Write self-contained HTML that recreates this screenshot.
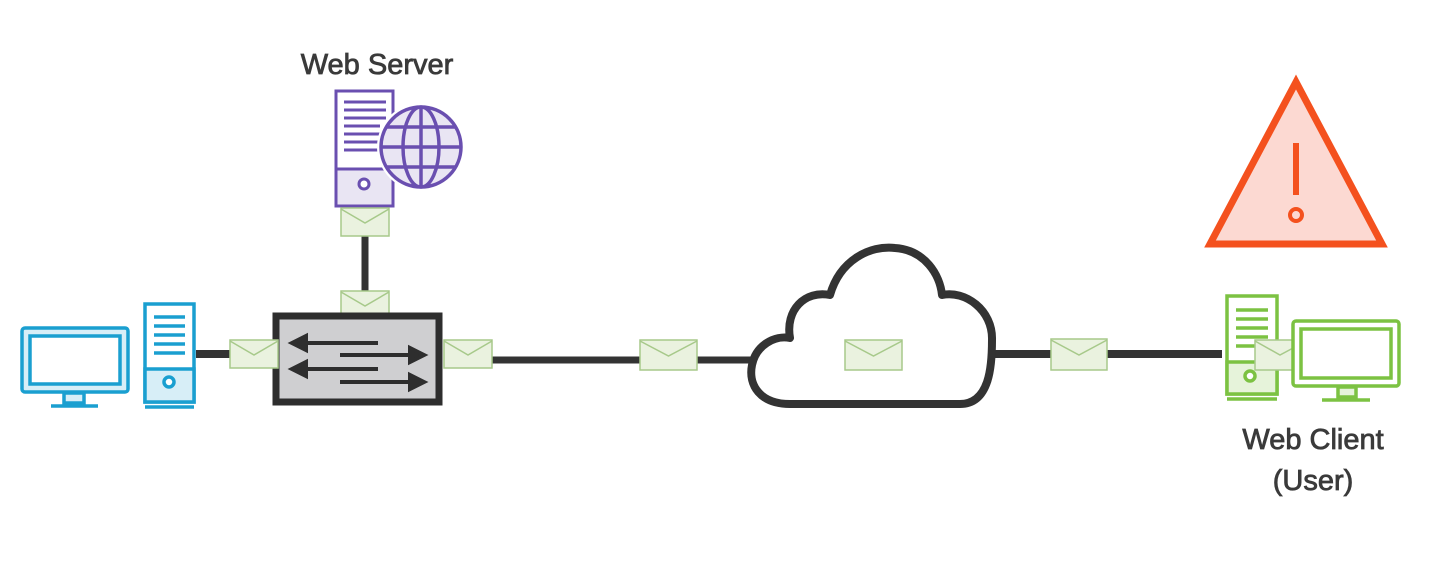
<!DOCTYPE html>
<html><head><meta charset="utf-8"><style>
html,body{margin:0;padding:0;background:#fff;}
svg{display:block;}
text{font-family:"Liberation Sans",sans-serif;fill:#3a3a3a;stroke:#3a3a3a;stroke-width:0.8;}
</style></head><body>
<svg width="1446" height="565" viewBox="0 0 1446 565" xmlns="http://www.w3.org/2000/svg">
<defs>
<g id="env"><rect x="0" y="0" width="48" height="28" fill="#eaf2df" stroke="#a7c98a" stroke-width="1.5"/><polyline points="0,1 24,15 48,1" fill="none" stroke="#a7c98a" stroke-width="1.5"/></g>
<g id="envw"><rect x="0" y="0" width="57" height="30" fill="#eaf2df" stroke="#a7c98a" stroke-width="1.5"/><polyline points="0,1 28.5,16 57,1" fill="none" stroke="#a7c98a" stroke-width="1.5"/></g>
</defs>
<line x1="196" y1="354" x2="232" y2="354" stroke="#333" stroke-width="8"/>
<line x1="490" y1="360" x2="760" y2="360" stroke="#333" stroke-width="7"/>
<line x1="990" y1="354" x2="1222" y2="354" stroke="#333" stroke-width="8"/>
<line x1="365" y1="234" x2="365" y2="293" stroke="#333" stroke-width="7"/>

<text x="377" y="74" font-size="29" text-anchor="middle">Web Server</text>
<rect x="336" y="91" width="57" height="115" fill="#e9e5f3" stroke="#6a4fb0" stroke-width="3"/>
<rect x="337.5" y="92.5" width="54" height="76" fill="#fff"/>
<line x1="336" y1="169" x2="393" y2="169" stroke="#6a4fb0" stroke-width="3"/>
<g stroke="#6a4fb0" stroke-width="3"><line x1="344" y1="102" x2="386" y2="102"/><line x1="344" y1="110" x2="386" y2="110"/><line x1="344" y1="118" x2="386" y2="118"/><line x1="344" y1="126" x2="380" y2="126"/><line x1="344" y1="134" x2="380" y2="134"/><line x1="344" y1="142" x2="380" y2="142"/><line x1="344" y1="150" x2="380" y2="150"/></g>
<circle cx="364" cy="184" r="5" fill="#fff" stroke="#6a4fb0" stroke-width="3"/>
<circle cx="421" cy="147" r="44" fill="#fff"/>
<g fill="none" stroke="#6a4fb0" stroke-width="3.5"><circle cx="421" cy="147" r="40" fill="#e9e5f3"/><ellipse cx="421" cy="147" rx="18" ry="40"/><line x1="421" y1="107" x2="421" y2="187"/><line x1="381" y1="147" x2="461" y2="147"/><line x1="387" y1="127" x2="455" y2="127"/><line x1="387" y1="167" x2="455" y2="167"/></g>
<use href="#env" x="341" y="208"/>
<use href="#env" x="341" y="291"/>
<rect x="276" y="316" width="163" height="86" fill="#cfcfd1" stroke="#2e2e2e" stroke-width="7"/>
<g stroke="#2e2e2e" stroke-width="4" fill="#2e2e2e">
<line x1="300" y1="343" x2="378" y2="343"/><polygon points="292,343 306,336 306,350"/>
<line x1="340" y1="355" x2="415" y2="355"/><polygon points="424,355 410,348 410,362"/>
<line x1="300" y1="369" x2="378" y2="369"/><polygon points="292,369 306,362 306,376"/>
<line x1="340" y1="382" x2="415" y2="382"/><polygon points="424,382 410,375 410,389"/>
</g>
<use href="#env" x="230" y="340"/>
<use href="#env" x="444" y="340"/>
<use href="#envw" x="640" y="340"/>
<g stroke="#1a9fd0" stroke-width="3.5" fill="none">
<rect x="22" y="328" width="106" height="64" rx="3" fill="#d7eef7"/>
<rect x="30" y="336" width="90" height="48" fill="#fff"/>
<rect x="64" y="393" width="20" height="10" fill="#d7eef7"/>
<line x1="51" y1="406" x2="98" y2="406"/>
<rect x="145" y="304" width="49" height="98" fill="#fff"/>
<rect x="145" y="369" width="49" height="33" fill="#d7eef7"/>
<line x1="145" y1="407" x2="194" y2="407"/>
<circle cx="169" cy="382" r="5" fill="#fff"/>
<line x1="154" y1="317" x2="185" y2="317"/><line x1="154" y1="326" x2="185" y2="326"/><line x1="154" y1="335" x2="185" y2="335"/><line x1="154" y1="344" x2="185" y2="344"/><line x1="154" y1="353" x2="185" y2="353"/>
</g>
<path d="M790,404 C760,404 748,385 752,365 C756,345 775,335 790,338 C785,310 805,290 830,295 C840,260 870,245 895,248 C925,250 940,275 942,295 C965,290 993,310 992,340 C992,365 990,404 960,404 Z" fill="#fff" stroke="#333" stroke-width="8" stroke-linejoin="round"/>
<use href="#envw" x="845" y="340"/>
<g transform="translate(1051,339)"><rect x="0" y="0" width="56" height="31" fill="#eaf2df" stroke="#a7c98a" stroke-width="1.5"/><polyline points="0,1 28,16 56,1" fill="none" stroke="#a7c98a" stroke-width="1.5"/></g>
<polygon points="1296,82 1210,244 1382,244" fill="#fcd9d2" stroke="#f4511e" stroke-width="7"/>
<line x1="1296" y1="143" x2="1296" y2="195" stroke="#f4511e" stroke-width="6"/>
<circle cx="1296" cy="215" r="6" fill="none" stroke="#f4511e" stroke-width="4"/>
<g stroke="#7cc242" stroke-width="3.5" fill="none">
<rect x="1227" y="296" width="50" height="98" fill="#fff"/>
<rect x="1227" y="362" width="50" height="32" fill="#e6f3da"/>
<line x1="1227" y1="399" x2="1277" y2="399"/>
<line x1="1236" y1="310" x2="1268" y2="310"/><line x1="1236" y1="319" x2="1268" y2="319"/><line x1="1236" y1="328" x2="1268" y2="328"/><line x1="1236" y1="337" x2="1268" y2="337"/><line x1="1236" y1="346" x2="1262" y2="346"/>
<circle cx="1250" cy="376" r="5" fill="#fff"/>
</g>
<rect x="1255" y="340" width="40" height="30" fill="#eaf2df" stroke="#a7c98a" stroke-width="1.5"/>
<polyline points="1255,341 1280,355 1295,347" fill="none" stroke="#a7c98a" stroke-width="1.5"/>
<g stroke="#7cc242" stroke-width="3.5" fill="none">
<rect x="1293" y="321" width="106" height="65" rx="3" fill="#fff"/>
<rect x="1301" y="329" width="90" height="49" fill="#fff"/>
<rect x="1338" y="387" width="18" height="10" fill="#e6f3da"/>
<line x1="1322" y1="400" x2="1370" y2="400"/>
</g>
<text x="1313" y="449" font-size="29" text-anchor="middle">Web Client</text>
<text x="1313" y="490" font-size="29" text-anchor="middle">(User)</text>
</svg>
</body></html>
